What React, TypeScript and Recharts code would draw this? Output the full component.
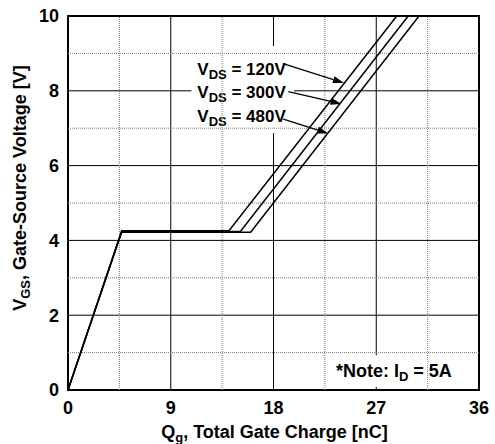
import React from 'react';
import {
  LineChart,
  Line,
  XAxis,
  YAxis,
  CartesianGrid,
  ReferenceLine,
  ReferenceArea,
  Label,
} from 'recharts';

// gate charge curves
const qg120 = [0, 4.7, 14.1, 28.8];
const vgs120 = [0, 4.26, 4.26, 10];
const qg300 = [0, 4.7, 15.1, 29.8];
const vgs300 = [0, 4.24, 4.24, 10];
const qg480 = [0, 4.7, 16.0, 30.75];
const vgs480 = [0, 4.22, 4.22, 10];

const xTicks = [0, 9, 18, 27, 36];
const yTicks = [0, 2, 4, 6, 8, 10];
const xMinor = [4.5, 13.5, 22.5, 31.5];
const yMinor = [1, 3, 5, 7, 9];

const vdsLabels = ['120V', '300V', '480V'];
// arrow start / tip in chart units (Qg, Vgs)
const arrowStartQ = [18.9, 19.3, 18.86];
const arrowStartV = [8.72, 7.98, 7.24];
const arrowTipQ = [24.17, 23.96, 22.8];
const arrowTipV = [8.21, 7.65, 6.86];

const toRows = (q: number[], v: number[]) => q.map((x, i) => ({ q: x, v: v[i] }));

const FONT = '"Liberation Sans", Arial, sans-serif';

const Arrow = (props: any) => {
  const { x1, y1, x2, y2 } = props;
  const dx = x2 - x1;
  const dy = y2 - y1;
  const len = Math.sqrt(dx * dx + dy * dy);
  const ux = dx / len;
  const uy = dy / len;
  const bx = x2 - ux * 11;
  const by = y2 - uy * 11;
  const pts = `${x2},${y2} ${bx - uy * 3.5},${by + ux * 3.5} ${bx + uy * 3.5},${by - ux * 3.5}`;
  return (
    <g>
      <line x1={x1} y1={y1} x2={bx} y2={by} stroke="#000" strokeWidth={1.3} />
      <polygon points={pts} fill="#000" />
    </g>
  );
};

const VdsText = (props: any) => {
  const { x, y } = props.viewBox;
  return (
    <g>
      {vdsLabels.map((t, i) => (
        <text key={t} x={x + 6} y={y + 29 + i * 23.5} fontFamily={FONT} fontWeight="bold" fontSize={17} fill="#000">
          V
          <tspan fontSize={13} dy={4}>DS</tspan>
          <tspan dy={-4}>{` = ${t}`}</tspan>
        </text>
      ))}
    </g>
  );
};

const NoteText = (props: any) => {
  const { x, y, width } = props.viewBox;
  return (
    <text x={x + width - 26} y={y + 22} textAnchor="end" fontFamily={FONT} fontWeight="bold" fontSize={18} fill="#000">
      *Note: I
      <tspan fontSize={13} dy={4}>D</tspan>
      <tspan dy={-4}> = 5A</tspan>
    </text>
  );
};

const XTitle = (props: any) => {
  const { x, y, width } = props.viewBox;
  return (
    <text x={x + width / 2 + 1} y={y + 48} textAnchor="middle" fontFamily={FONT} fontWeight="bold" fontSize={18} fill="#000">
      Q
      <tspan fontSize={13} dy={4}>g</tspan>
      <tspan dy={-4}>, Total Gate Charge [nC]</tspan>
    </text>
  );
};

const YTitle = (props: any) => {
  const { x, y, height } = props.viewBox;
  const cx = x + 26;
  const cy = y + height / 2 - 15;
  return (
    <text x={cx} y={cy} transform={`rotate(-90, ${cx}, ${cy})`} textAnchor="middle" fontFamily={FONT} fontWeight="bold" fontSize={18} fill="#000">
      V
      <tspan fontSize={13} dy={4}>GS</tspan>
      <tspan dy={-4}>, Gate-Source Voltage [V]</tspan>
    </text>
  );
};

const tickStyle = { fill: '#000', fontSize: 18, fontWeight: 'bold', fontFamily: FONT };

export default function App() {
  return (
    <div style={{ position: 'absolute', left: 0, top: 0, background: '#fff' }}>
      <LineChart width={495} height={444} margin={{ top: 16, right: 16, bottom: 0, left: 0 }}>
        <CartesianGrid stroke="#000" strokeWidth={1} />
        <XAxis
          type="number"
          dataKey="q"
          domain={[0, 36]}
          ticks={xTicks}
          height={54}
          axisLine={false}
          tickLine={false}
          tickSize={0}
          tickMargin={11}
          tick={tickStyle}
          allowDuplicatedCategory={false}
        >
          <Label content={XTitle} />
        </XAxis>
        <YAxis
          type="number"
          dataKey="v"
          domain={[0, 10]}
          ticks={yTicks}
          width={68}
          axisLine={false}
          tickLine={false}
          tickSize={0}
          tickMargin={9}
          tick={tickStyle}
        >
          <Label content={YTitle} />
        </YAxis>
        {xMinor.map((q) => (
          <ReferenceLine key={'x' + q} x={q} stroke="#777" strokeDasharray="1 1" />
        ))}
        {yMinor.map((v) => (
          <ReferenceLine key={'y' + v} y={v} stroke="#777" strokeDasharray="1 1" />
        ))}
        <ReferenceArea x1={10.8} x2={19.8} y1={6.87} y2={9.2} fill="#fff" fillOpacity={1} stroke="none" label={<VdsText />} />
        <ReferenceArea x1={21.5} x2={35.9} y1={0.08} y2={0.93} fill="#fff" fillOpacity={1} stroke="none" label={<NoteText />} />
        <Line data={toRows(qg120, vgs120)} dataKey="v" type="linear" stroke="#000" strokeWidth={1.5} dot={false} isAnimationActive={false} />
        <Line data={toRows(qg300, vgs300)} dataKey="v" type="linear" stroke="#000" strokeWidth={1.5} dot={false} isAnimationActive={false} />
        <Line data={toRows(qg480, vgs480)} dataKey="v" type="linear" stroke="#000" strokeWidth={1.5} dot={false} isAnimationActive={false} />
        {vdsLabels.map((t, i) => (
          <ReferenceLine
            key={'a' + t}
            segment={[
              { x: arrowStartQ[i], y: arrowStartV[i] },
              { x: arrowTipQ[i], y: arrowTipV[i] },
            ]}
            stroke="#000"
            shape={Arrow}
          />
        ))}
        <ReferenceArea x1={0} x2={36} y1={0} y2={10} fill="none" stroke="#000" strokeWidth={2} />
      </LineChart>
    </div>
  );
}
